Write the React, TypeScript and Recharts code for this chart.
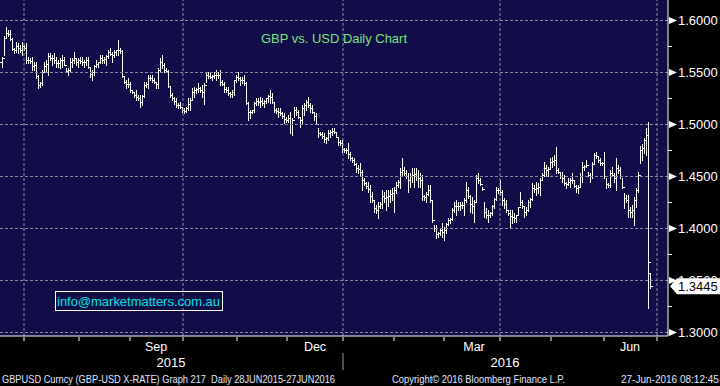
import React from 'react';
import { ComposedChart, Bar, XAxis, YAxis, ReferenceLine, CartesianGrid } from 'recharts';

// Daily GBPUSD bars: highs, lows, closes
const highs = [
1.565,1.585,1.594,1.591,1.591,1.583,1.574,1.579,1.578,1.576,
1.579,1.576,1.578,1.565,1.564,1.565,1.560,1.560,1.548,1.541,
1.552,1.560,1.562,1.569,1.569,1.567,1.569,1.565,1.562,1.564,
1.567,1.565,1.554,1.554,1.564,1.564,1.570,1.564,1.564,1.565,
1.565,1.562,1.565,1.565,1.555,1.552,1.557,1.562,1.560,1.567,
1.567,1.565,1.567,1.572,1.574,1.570,1.572,1.572,1.581,1.574,
1.572,1.546,1.543,1.545,1.541,1.533,1.531,1.533,1.528,1.528,
1.528,1.541,1.541,1.548,1.548,1.548,1.545,1.541,1.554,1.564,
1.567,1.559,1.554,1.552,1.536,1.530,1.526,1.525,1.521,1.522,
1.517,1.516,1.517,1.525,1.525,1.535,1.536,1.535,1.540,1.536,
1.538,1.540,1.550,1.550,1.550,1.548,1.550,1.552,1.550,1.552,
1.543,1.541,1.536,1.536,1.531,1.533,1.543,1.548,1.550,1.546,
1.546,1.548,1.541,1.522,1.514,1.514,1.522,1.525,1.525,1.526,
1.525,1.524,1.525,1.528,1.533,1.530,1.522,1.516,1.516,1.516,
1.512,1.511,1.507,1.509,1.512,1.506,1.517,1.517,1.514,1.507,
1.519,1.521,1.524,1.526,1.521,1.519,1.512,1.511,1.497,1.493,
1.493,1.492,1.488,1.495,1.495,1.497,1.497,1.493,1.487,1.485,
1.485,1.477,1.477,1.482,1.474,1.469,1.468,1.463,1.461,1.463,
1.456,1.449,1.445,1.445,1.442,1.435,1.427,1.423,1.425,1.425,
1.437,1.435,1.437,1.437,1.437,1.439,1.440,1.445,1.447,1.458,
1.468,1.459,1.456,1.453,1.453,1.458,1.458,1.458,1.456,1.453,
1.451,1.432,1.435,1.442,1.442,1.427,1.403,1.403,1.397,1.400,
1.405,1.401,1.405,1.410,1.410,1.420,1.425,1.427,1.425,1.425,
1.425,1.429,1.445,1.440,1.432,1.430,1.427,1.451,1.453,1.449,
1.440,1.425,1.420,1.418,1.416,1.423,1.429,1.440,1.439,1.447,
1.437,1.429,1.427,1.418,1.418,1.418,1.415,1.413,1.421,1.435,
1.427,1.421,1.421,1.427,1.429,1.444,1.442,1.445,1.444,1.449,
1.453,1.464,1.461,1.459,1.468,1.469,1.471,1.478,1.458,1.454,
1.454,1.451,1.445,1.449,1.449,1.453,1.447,1.442,1.442,1.453,
1.464,1.461,1.466,1.454,1.453,1.464,1.473,1.474,1.469,1.468,
1.464,1.474,1.449,1.444,1.456,1.459,1.453,1.468,1.461,1.459,
1.449,1.434,1.432,1.432,1.421,1.423,1.430,1.439,1.454,1.479,
1.481,1.487,1.497,1.502,1.357,
];

const lows = [
1.555,1.567,1.584,1.585,1.581,1.572,1.569,1.570,1.569,1.570,
1.567,1.572,1.559,1.559,1.559,1.552,1.552,1.545,1.535,1.536,
1.538,1.550,1.550,1.548,1.562,1.557,1.559,1.555,1.555,1.554,
1.555,1.557,1.550,1.548,1.550,1.555,1.559,1.557,1.555,1.559,
1.557,1.555,1.557,1.554,1.546,1.543,1.548,1.555,1.555,1.559,
1.559,1.559,1.557,1.564,1.567,1.560,1.565,1.567,1.567,1.569,
1.546,1.540,1.535,1.536,1.531,1.530,1.526,1.524,1.524,1.517,
1.519,1.526,1.536,1.535,1.543,1.541,1.540,1.535,1.535,1.550,
1.554,1.550,1.550,1.536,1.526,1.524,1.520,1.517,1.516,1.516,
1.512,1.511,1.512,1.514,1.514,1.524,1.526,1.530,1.531,1.531,
1.526,1.520,1.541,1.545,1.545,1.543,1.545,1.543,1.545,1.538,
1.538,1.531,1.531,1.528,1.526,1.526,1.528,1.541,1.543,1.538,
1.540,1.538,1.520,1.504,1.506,1.511,1.512,1.519,1.519,1.517,
1.519,1.517,1.521,1.522,1.521,1.521,1.512,1.511,1.507,1.509,
1.506,1.501,1.502,1.502,1.492,1.490,1.507,1.509,1.506,1.498,
1.501,1.509,1.514,1.517,1.512,1.511,1.504,1.500,1.488,1.490,
1.487,1.483,1.482,1.485,1.488,1.490,1.492,1.488,1.480,1.480,
1.474,1.474,1.473,1.468,1.466,1.464,1.461,1.454,1.453,1.451,
1.437,1.442,1.439,1.435,1.425,1.425,1.416,1.415,1.410,1.420,
1.420,1.425,1.418,1.422,1.425,1.427,1.416,1.434,1.440,1.439,
1.450,1.451,1.449,1.435,1.440,1.445,1.440,1.447,1.440,1.440,
1.427,1.427,1.425,1.432,1.425,1.406,1.398,1.391,1.392,1.394,
1.392,1.389,1.396,1.403,1.405,1.408,1.416,1.413,1.418,1.418,
1.420,1.413,1.425,1.429,1.416,1.415,1.406,1.425,1.444,1.442,
1.437,1.411,1.410,1.406,1.411,1.413,1.420,1.427,1.434,1.432,
1.423,1.420,1.416,1.413,1.401,1.405,1.406,1.406,1.413,1.423,
1.420,1.411,1.413,1.417,1.421,1.427,1.435,1.432,1.434,1.432,
1.447,1.450,1.451,1.450,1.458,1.459,1.461,1.453,1.453,1.449,
1.445,1.442,1.439,1.442,1.440,1.444,1.440,1.435,1.434,1.440,
1.445,1.456,1.459,1.450,1.445,1.449,1.463,1.468,1.464,1.461,
1.461,1.449,1.439,1.440,1.440,1.450,1.445,1.437,1.453,1.449,
1.439,1.420,1.425,1.411,1.411,1.411,1.403,1.421,1.435,1.463,
1.466,1.473,1.471,1.324,1.343,
];

const closes = [
1.564,1.583,1.588,1.587,1.582,1.573,1.572,1.575,1.574,1.572,
1.575,1.574,1.562,1.562,1.561,1.556,1.557,1.547,1.538,1.540,
1.550,1.556,1.558,1.566,1.564,1.564,1.562,1.559,1.559,1.562,
1.562,1.557,1.551,1.552,1.560,1.562,1.564,1.560,1.562,1.561,
1.560,1.560,1.562,1.555,1.549,1.550,1.556,1.558,1.560,1.564,
1.562,1.563,1.566,1.570,1.568,1.567,1.570,1.572,1.572,1.571,
1.547,1.541,1.539,1.539,1.533,1.531,1.528,1.526,1.525,1.522,
1.527,1.538,1.539,1.545,1.545,1.543,1.541,1.539,1.552,1.560,
1.557,1.552,1.551,1.537,1.528,1.525,1.523,1.519,1.519,1.517,
1.514,1.513,1.516,1.520,1.524,1.531,1.533,1.534,1.535,1.533,
1.531,1.538,1.548,1.547,1.546,1.547,1.548,1.548,1.548,1.541,
1.539,1.534,1.533,1.530,1.529,1.531,1.543,1.546,1.545,1.543,
1.543,1.540,1.521,1.512,1.512,1.514,1.521,1.523,1.522,1.523,
1.521,1.523,1.525,1.527,1.526,1.522,1.514,1.513,1.512,1.511,
1.508,1.505,1.504,1.506,1.500,1.504,1.514,1.512,1.507,1.504,
1.516,1.519,1.522,1.519,1.516,1.512,1.508,1.500,1.492,1.491,
1.489,1.486,1.487,1.492,1.493,1.494,1.493,1.488,1.483,1.482,
1.476,1.475,1.475,1.472,1.468,1.466,1.462,1.458,1.457,1.454,
1.447,1.444,1.441,1.438,1.431,1.427,1.420,1.418,1.422,1.424,
1.431,1.429,1.430,1.431,1.433,1.434,1.437,1.442,1.445,1.454,
1.456,1.453,1.450,1.447,1.450,1.451,1.452,1.450,1.449,1.447,
1.431,1.430,1.433,1.437,1.427,1.408,1.400,1.395,1.396,1.399,
1.397,1.399,1.404,1.408,1.409,1.418,1.422,1.422,1.422,1.423,
1.423,1.427,1.437,1.431,1.424,1.422,1.425,1.449,1.447,1.443,
1.438,1.416,1.413,1.413,1.415,1.422,1.428,1.437,1.437,1.435,
1.427,1.424,1.418,1.415,1.412,1.411,1.410,1.413,1.421,1.425,
1.422,1.416,1.418,1.425,1.428,1.439,1.438,1.439,1.440,1.447,
1.451,1.458,1.456,1.457,1.464,1.465,1.466,1.456,1.454,1.450,
1.449,1.444,1.443,1.445,1.447,1.447,1.441,1.439,1.440,1.450,
1.459,1.460,1.461,1.451,1.450,1.462,1.471,1.470,1.466,1.463,
1.463,1.450,1.443,1.442,1.453,1.451,1.449,1.458,1.456,1.450,
1.440,1.429,1.427,1.418,1.416,1.418,1.427,1.437,1.451,1.475,
1.477,1.485,1.490,1.368,1.3445,
];

// opens that differ from the previous close (first bar, Monday gap)
const openGaps: Record<number, number> = { 0: 1.560, 324: 1.357 };

// x axis in trading-day index units
const xDomain: [number, number] = [-1, 333];
const monthStarts = [11, 38.5, 64, 90.5, 117.5, 142.5, 170.5, 196, 221, 249, 274.5, 301, 327.5];
const quarterStarts = [11, 90.5, 170.5, 249, 327.5];
const monthLabelPos = [77, 156.5, 236, 314];
const monthLabelText = ['Sep', 'Dec', 'Mar', 'Jun'];
const yearLabelPos = [84.5, 251.5];
const yearLabelText = ['2015', '2016'];
const yearBreak = 170.5;

const yDomain: [number, number] = [1.2966, 1.6197];
const majorLevels = [1.3, 1.35, 1.4, 1.45, 1.5, 1.55, 1.6];
const minorLevels = [1.325, 1.375, 1.425, 1.475, 1.525, 1.575];

const lastPrice = closes[closes.length - 1];

const data = highs.map((h, i) => ({
  i,
  high: h,
  low: lows[i],
  close: closes[i],
  open: openGaps[i] !== undefined ? openGaps[i] : closes[i - 1],
  range: [lows[i], h],
}));

const FONT = "'Liberation Sans', Arial, sans-serif";
const NAVY = '#100d49';
const GRID = '#8e8ea0';

const OhlcShape = (props: any) => {
  const { x, y, width, height, payload } = props;
  if (!payload || x == null || y == null || height == null) return null;
  const top = Math.min(y, y + height);
  const bot = Math.max(y, y + height);
  const span = payload.high - payload.low || 1e-9;
  const toY = (v: number) => top + ((payload.high - v) / span) * (bot - top);
  const cx = Math.round(x + width / 2);
  const yt = Math.round(top);
  const yb = Math.round(bot);
  return (
    <g fill="#ffffff" shapeRendering="crispEdges">
      <rect x={cx} y={yt} width={1} height={Math.max(1, yb - yt + 1)} />
      <rect x={cx - 2} y={Math.round(toY(payload.open))} width={2} height={1} />
      <rect x={cx + 1} y={Math.round(toY(payload.close))} width={2} height={1} />
    </g>
  );
};

const YTick = (props: any) => {
  const { x, y, payload } = props;
  const v = payload.value;
  if (v === lastPrice) {
    return (
      <g>
        <polygon
          points={`${x + 2},${y} ${x + 9},${y - 8} 720,${y - 8} 720,${y + 8} ${x + 9},${y + 8}`}
          fill="#ffffff"
        />
        <text x={x + 10} y={y + 5} fill="#000" fontSize={13} fontFamily={FONT}>
          {v.toFixed(4)}
        </text>
      </g>
    );
  }
  const major = Math.abs(v * 20 - Math.round(v * 20)) < 1e-6;
  if (!major) {
    return <line x1={x} x2={x + 4} y1={y} y2={y} stroke="#fff" strokeWidth={1} />;
  }
  return (
    <g>
      <polygon points={`${x + 1},${y - 3.5} ${x + 9},${y} ${x + 1},${y + 3.5}`} fill="#fff" />
      <text x={x + 10} y={y + 5} fill="#fff" fontSize={13} fontFamily={FONT}>
        {v.toFixed(4)}
      </text>
    </g>
  );
};

const XTick = (props: any) => {
  const { x, y, payload } = props;
  const v = payload.value;
  const mi = monthLabelPos.indexOf(v);
  const yi = yearLabelPos.indexOf(v);
  if (mi >= 0) {
    return (
      <text x={x} y={y + 15} fill="#fff" fontSize={12.5} fontFamily={FONT} textAnchor="middle">
        {monthLabelText[mi]}
      </text>
    );
  }
  if (yi >= 0) {
    return (
      <text x={x} y={y + 31} fill="#fff" fontSize={13} fontFamily={FONT} textAnchor="middle">
        {yearLabelText[yi]}
      </text>
    );
  }
  return (
    <g>
      <line x1={x} x2={x} y1={y + 1} y2={y + 5} stroke="#fff" strokeWidth={1} />
      {v === yearBreak ? (
        <line x1={x} x2={x} y1={y + 17} y2={y + 34} stroke="#9a9a9a" strokeWidth={1} />
      ) : null}
    </g>
  );
};

const xTicks = [...monthStarts, ...monthLabelPos, ...yearLabelPos];
const yTicks = [...majorLevels, ...minorLevels, lastPrice];

export default function App() {
  return (
    <div style={{ position: 'absolute', left: 0, top: 0, width: 720, height: 386, background: '#000' }}>
      <ComposedChart
        width={720}
        height={386}
        data={data}
        margin={{ top: 0, right: 0, bottom: 0, left: 0 }}
        barCategoryGap={0}
        barGap={0}
      >
        <CartesianGrid fill={NAVY} fillOpacity={1} stroke="none" horizontal={false} vertical={false} />
        <XAxis
          dataKey="i"
          type="number"
          domain={xDomain}
          allowDataOverflow
          ticks={xTicks}
          interval={0}
          height={50}
          tickSize={0}
          tickMargin={0}
          tickLine={false}
          axisLine={{ stroke: '#fff', strokeWidth: 1 }}
          tick={<XTick />}
        />
        <YAxis
          orientation="right"
          type="number"
          domain={yDomain}
          allowDataOverflow
          ticks={yTicks}
          interval={0}
          width={52}
          tickSize={0}
          tickMargin={0}
          tickLine={false}
          axisLine={{ stroke: '#fff', strokeWidth: 1 }}
          tick={<YTick />}
        />
        {majorLevels.map((v) => (
          <ReferenceLine key={'h' + v} y={v} stroke={GRID} strokeDasharray="3 2" strokeWidth={1} />
        ))}
        {quarterStarts.map((v) => (
          <ReferenceLine key={'v' + v} x={v} stroke={GRID} strokeDasharray="3 2" strokeWidth={1} />
        ))}
        <Bar dataKey="range" shape={<OhlcShape />} isAnimationActive={false} barSize={2} />
      </ComposedChart>
      <svg
        width={720}
        height={386}
        style={{ position: 'absolute', left: 0, top: 0, pointerEvents: 'none' }}
      >
        <text x={261} y={43} fill="#7fe07f" fontSize={13} fontFamily={FONT} textLength={146} lengthAdjust="spacingAndGlyphs">
          GBP vs. USD Daily Chart
        </text>
        <rect x={55.5} y={291.5} width={167} height={19} fill="none" stroke="#fff" strokeWidth={1} />
        <text x={57} y={305.5} fill="#00e0e0" fontSize={13} fontFamily={FONT} textLength={163} lengthAdjust="spacingAndGlyphs">
          info@marketmatters.com.au
        </text>
        <text x={2} y={383} fill="#e2e6ff" fontSize={11} fontFamily={FONT} style={{ whiteSpace: 'pre' }} textLength={333} lengthAdjust="spacingAndGlyphs">
          {'GBPUSD Curncy (GBP-USD X-RATE) Graph 217  Daily 28JUN2015-27JUN2016'}
        </text>
        <text x={392} y={383} fill="#e2e6ff" fontSize={11} fontFamily={FONT} textLength={173} lengthAdjust="spacingAndGlyphs">
          Copyright© 2016 Bloomberg Finance L.P.
        </text>
        <text x={621} y={383} fill="#e2e6ff" fontSize={10} fontFamily={FONT}>
          27-Jun-2016 08:12:45
        </text>
      </svg>
    </div>
  );
}
